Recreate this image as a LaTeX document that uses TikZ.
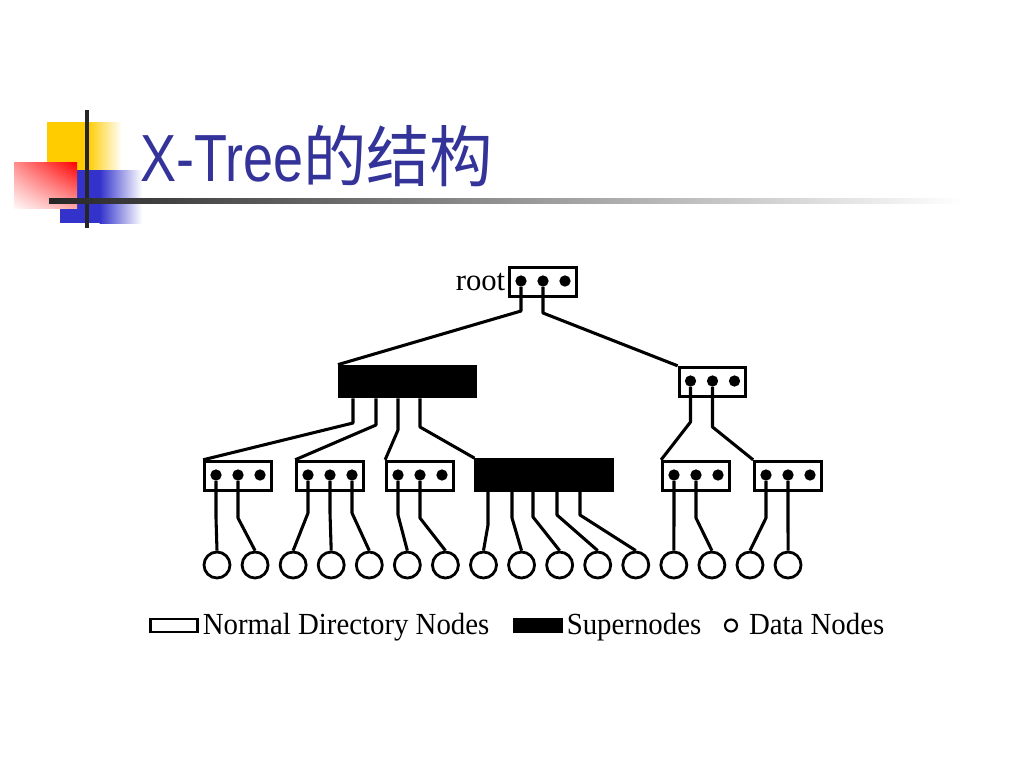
\documentclass[tikz,border=0pt]{standalone}
\usepackage{fontspec}
\setmainfont{Liberation Serif}
\newfontfamily\titlefont{Liberation Sans}
\newfontfamily\cjkfont{Noto Sans CJK SC}
\usetikzlibrary{calc,positioning,shadings}
\definecolor{titleblue}{RGB}{51,51,153}
\definecolor{decoyellow}{RGB}{255,204,0}
\definecolor{decoblue}{RGB}{51,51,204}
\newcommand{\legtext}[1]{\scalebox{0.94}[1]{#1}}

\begin{document}
\begin{tikzpicture}[
    x=0.75pt, y=-0.75pt,
    dirnode/.style={
        draw,
        line width=2.3pt,
        minimum width=50pt,
        minimum height=22pt,
        inner sep=0pt
    },
    supernode/.style={dirnode, fill=black, minimum width=102pt, minimum height=23pt},
    dot/.style={circle, fill=black, inner sep=0pt, minimum size=8.5pt},
    datanode/.style={circle, draw, line width=2.1pt, inner sep=0pt, minimum size=19.5pt},
    link/.style={line width=2.3pt, line join=round},
    legend/.style={font=\fontsize{23}{26}\selectfont, inner sep=0pt, text height=17pt, text depth=3pt}
]
\useasboundingbox (0,0) rectangle (1024,768);

\fill[decoyellow] (47,122) rectangle (88,172);
\shade[left color=decoyellow, right color=white] (87.5,122) rectangle (122,172);
\fill[decoblue] (60,170) rectangle (100,223);
\shade[left color=decoblue, right color=white] (99.5,170) rectangle (142,223);
\shade[upper left=red!45, upper right=red, lower left=red!3, lower right=red!35] (14,162) rectangle (77,208);
\draw[line width=2.8pt, black!85] (87,110) -- (87,228);
\shade[left color=black!85, middle color=black!35, right color=white] (49,198.5) rectangle (962,203.5);

\node[anchor=base west, text=titleblue, inner sep=0pt] (title) at (140,181)
    {\titlefont\fontsize{50}{50}\selectfont\scalebox{0.81}[1]{X-Tree}\scalebox{0.95}[1]{\cjkfont 的结构}};

\node[dirnode] (root) at (543,282) {};
\node[left=0pt of root, inner sep=2pt, font=\fontsize{23}{25}\selectfont] (rootlabel) {root};
\node[supernode] (super1) at (407.5,381.5) {};
\node[dirnode] (dirR) at (712.5,382) {};
\node[dirnode] (dirA) at (238,476) {};
\node[dirnode] (dirB) at (330,476) {};
\node[dirnode] (dirC) at (420,476) {};
\node[supernode] (super2) at (544,475) {};
\node[dirnode] (dirD) at (696,476) {};
\node[dirnode] (dirE) at (788,476) {};

\foreach \b in {root,dirR,dirA,dirB,dirC,dirD,dirE}
    \foreach \k/\dx in {1/-22,2/0,3/22}
        \node[dot] (\b-\k) at ($(\b.center)+(\dx,-1)$) {};
\foreach \k/\dx in {1/-54.5,2/-31.5,3/-9.5,4/12.5}
    \coordinate (super1-\k) at ($(super1.south)+(\dx,0)$);
\foreach \k/\dx in {1/-56,2/-32,3/-11,4/13,5/36}
    \coordinate (super2-\k) at ($(super2.south)+(\dx,0)$);

\foreach \i in {1,...,16}
    \node[datanode] (data\i) at ({217+38.07*(\i-1)},565) {};

\foreach \src/\bend/\dst in {
    root-1/311/super1.north west, root-2/313/dirR.north west,
    super1-1/423/dirA.north west, super1-2/425/dirB.north west,
    super1-3/430/dirC.north west, super1-4/427/super2.north west,
    dirR-1/422/dirD.north west, dirR-2/427/dirE.north west,
    dirA-1/518/data1.north, dirA-2/518/data2.north,
    dirB-1/513/data3.north, dirB-2/513/data4.north, dirB-3/513/data5.north,
    dirC-1/515/data6.north, dirC-2/518/data7.north,
    super2-1/525/data8.north, super2-2/518/data9.north, super2-3/517/data10.north,
    super2-4/515/data11.north, super2-5/515/data12.north,
    dirD-1/518/data13.north, dirD-2/518/data14.north,
    dirE-1/518/data15.north, dirE-2/518/data16.north}
    \draw[link] (\src) -- (\src |- 0,\bend) -- (\dst);

\node[dirnode, minimum width=35pt, minimum height=10pt, line width=1.8pt] (legdir) at (174,625.5) {};
\node[legend, right=3pt of legdir] (legdirtext) {\legtext{Normal Directory Nodes}};
\node[supernode, minimum width=35pt, minimum height=10pt, line width=1.8pt] (legsuper) at (538,625.5) {};
\node[legend, right=3pt of legsuper] (legsupertext) {\legtext{Supernodes}};
\node[datanode, minimum size=9pt, line width=1.6pt] (legdata) at (731,625.5) {};
\node[legend, right=8pt of legdata] (legdatatext) {\legtext{Data Nodes}};

\end{tikzpicture}
\end{document}
